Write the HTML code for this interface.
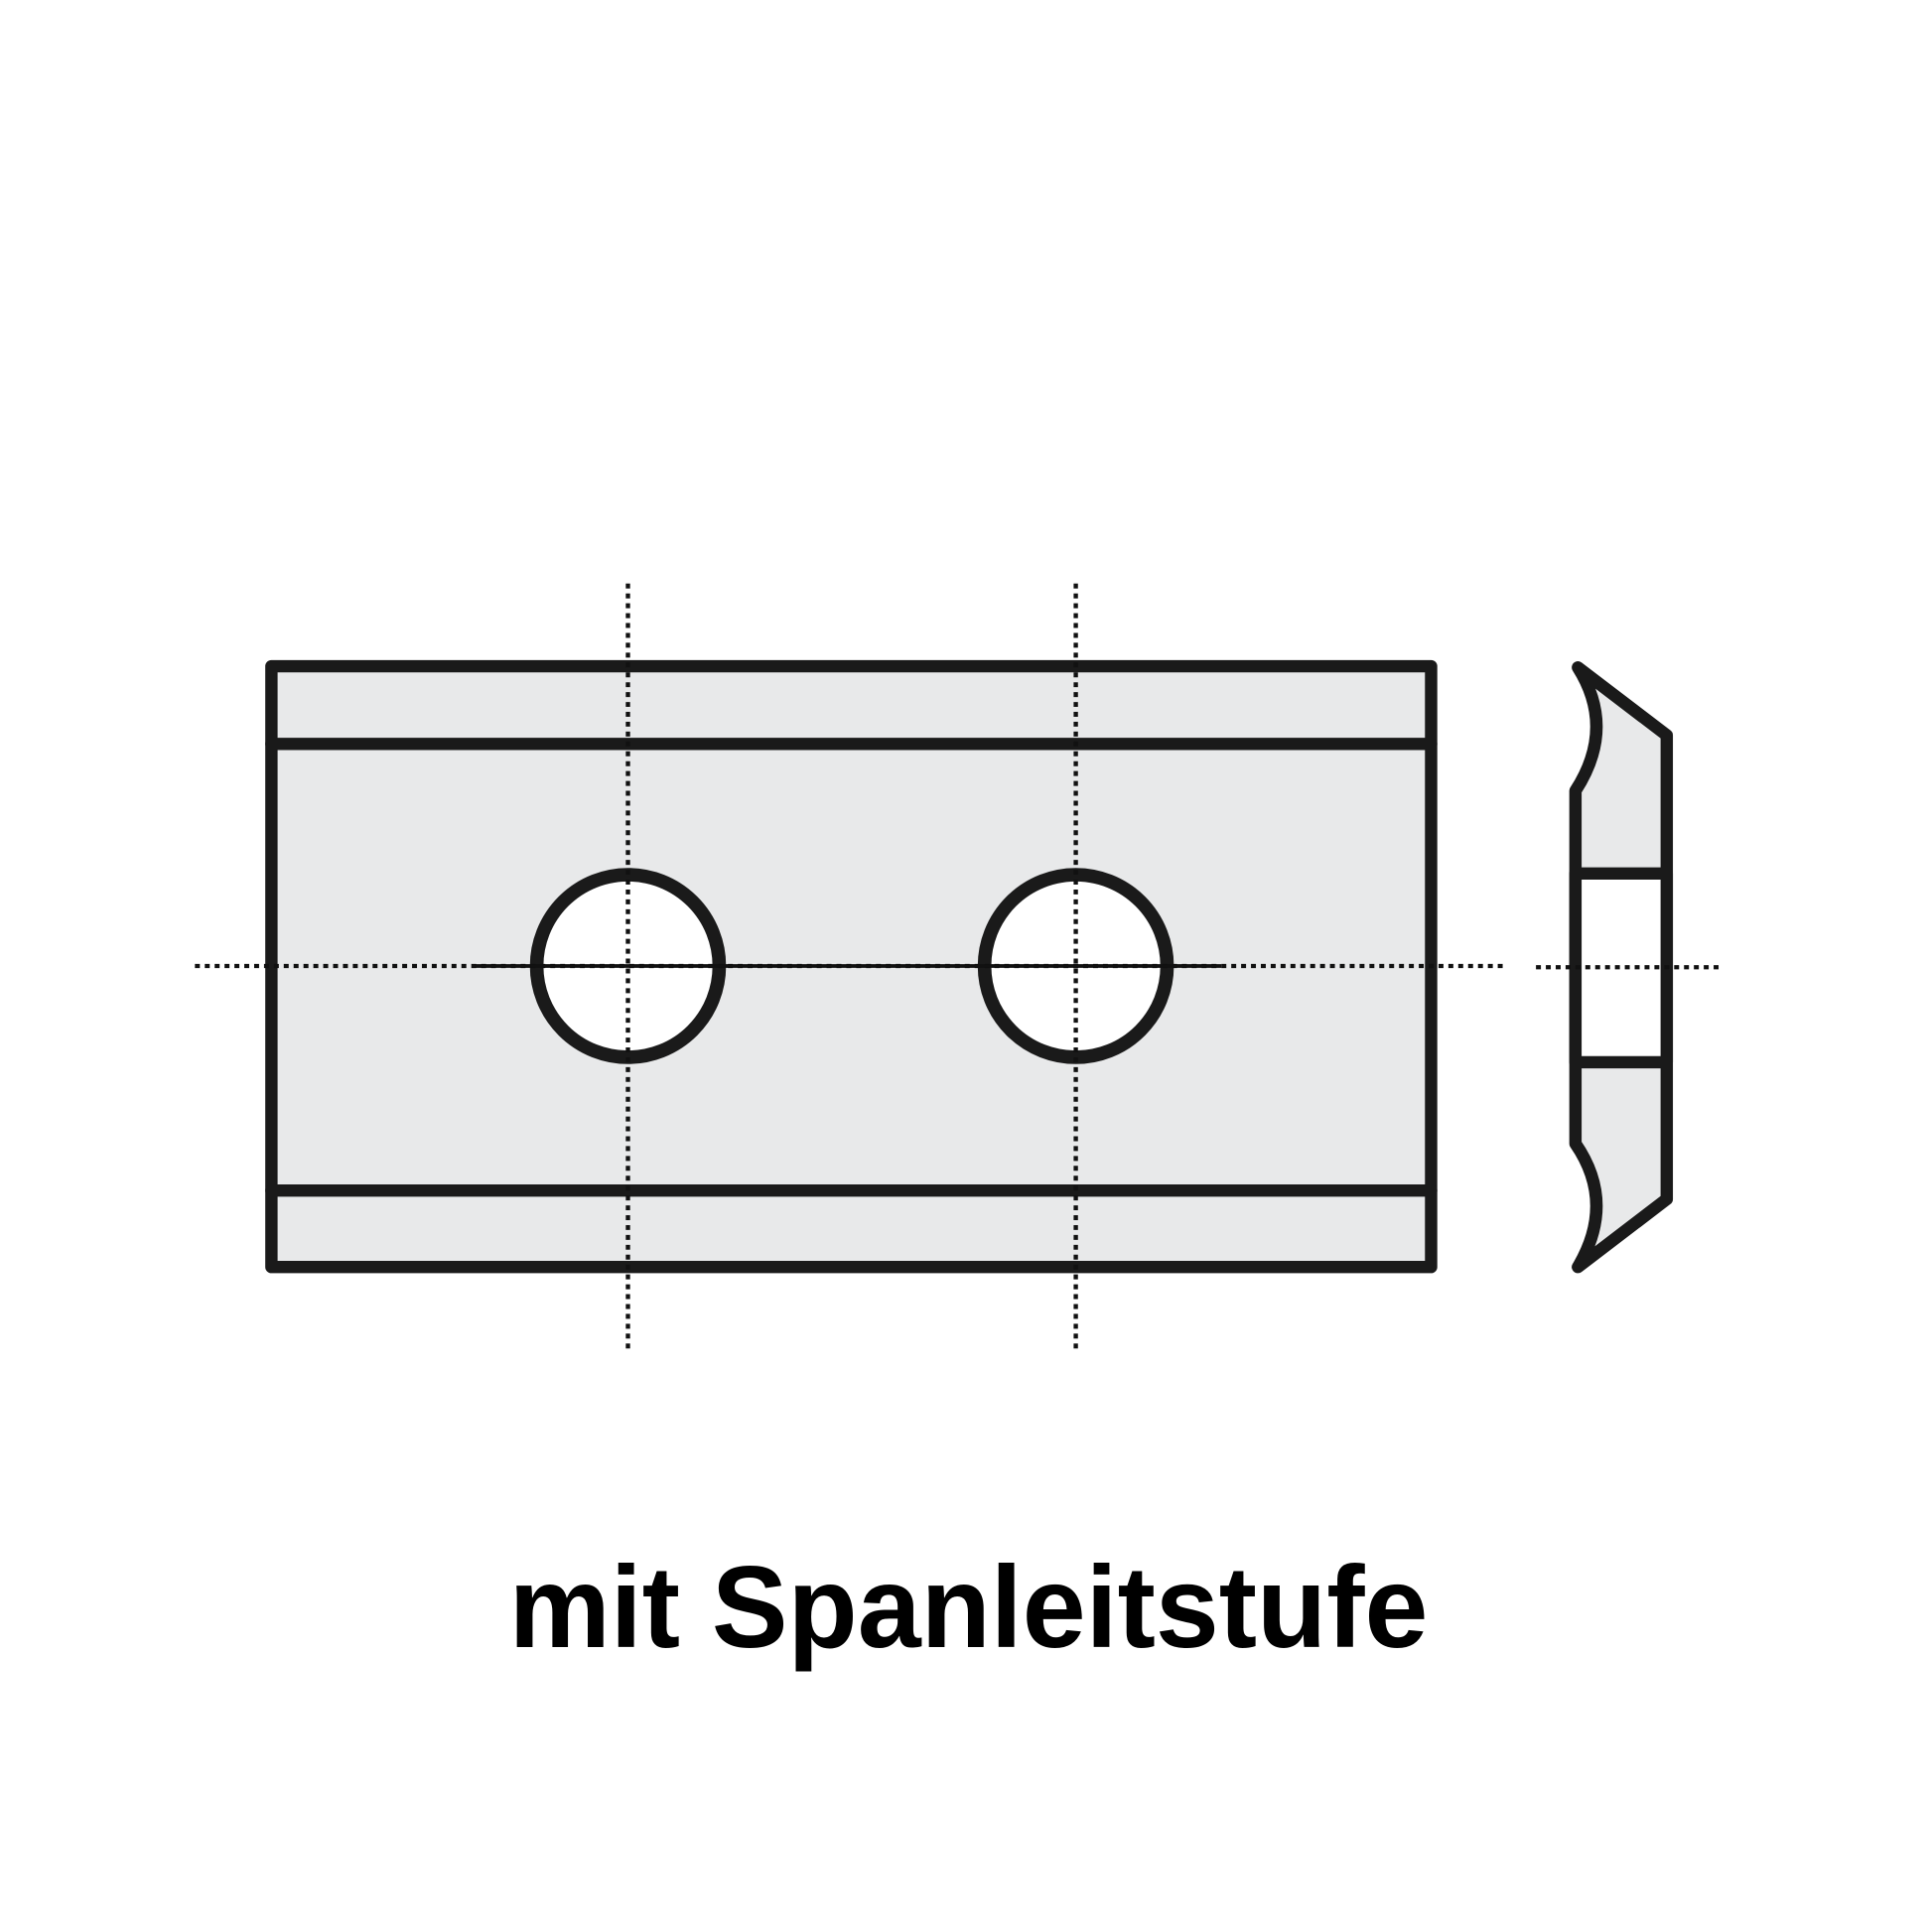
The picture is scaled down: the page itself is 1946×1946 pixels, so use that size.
<!DOCTYPE html>
<html><head><style>html,body{margin:0;padding:0;background:#fff}svg{display:block}</style></head>
<body>
<svg width="1946" height="1946" viewBox="0 0 1566 1566" xmlns="http://www.w3.org/2000/svg">
<rect width="1566" height="1566" fill="#fff"/>
<g stroke="#1a1a1a" stroke-width="10" stroke-linejoin="round" stroke-linecap="round">
<rect x="220" y="540" width="940" height="487" fill="#e8e9ea"/>
<line x1="220" y1="603" x2="1160" y2="603"/>
<line x1="220" y1="965" x2="1160" y2="965"/>
<circle cx="509" cy="783" r="74" fill="#fff" stroke-width="11"/>
<circle cx="872" cy="783" r="74" fill="#fff" stroke-width="11"/>
<path d="M1279,541 L1351,596 L1351,972 L1279,1027 Q1310,975 1277,927 L1277,641 Q1310,590 1279,541 Z" fill="#e8e9ea"/>
<rect x="1277" y="708" width="74" height="153" fill="#fff"/>
</g>
<g stroke="#111" stroke-width="3.5" stroke-dasharray="4,4">
<line x1="509" y1="473" x2="509" y2="1093"/>
<line x1="872" y1="473" x2="872" y2="1093"/>
<line x1="158" y1="783" x2="1222" y2="783"/>
<line x1="1245" y1="784" x2="1397" y2="784"/>
</g>
<line x1="385" y1="783" x2="990" y2="783" stroke="#111" stroke-width="3"/>
<text x="785" y="1335" text-anchor="middle" font-family="Liberation Sans, Arial, sans-serif" font-weight="bold" font-size="94" textLength="745" lengthAdjust="spacingAndGlyphs" fill="#000">mit Spanleitstufe</text>
</svg>
</body></html>
